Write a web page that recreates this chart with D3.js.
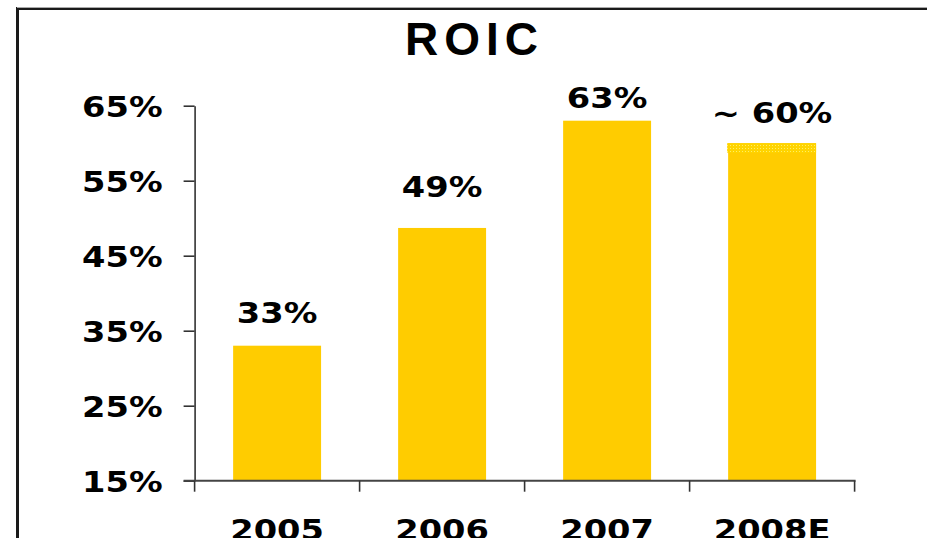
<!DOCTYPE html>
<html>
<head>
<meta charset="utf-8">
<script src="https://cdn.jsdelivr.net/npm/d3@7"></script>
<style>
  html, body { margin: 0; padding: 0; background: #fff; overflow: hidden; }
  svg { display: block; }
</style>
</head>
<body>
<svg id="chart" width="927" height="538"></svg>
<script>
// ---- data ----
const title = "ROIC";
const categories = ["2005", "2006", "2007", "2008E"];
const roicValues = [33, 48.7, 63, 60];
const valueLabels = ["33%", "49%", "63%", "~ 60%"];
const yTickValues = [15, 25, 35, 45, 55, 65];
const estimateCategory = "2008E";

// ---- layout / style (not data) ----
const labelLift = [23, 31, 12.5, 20];
const W = 927, H = 538;
const plot = { left: 194.6, right: 854.6, top: 105.7, bottom: 480.7 };
const barColor = "#FFCC00";
const numFont = "'DejaVu Sans', Verdana, sans-serif";
const stretch = 1.16;

const svg = d3.select("#chart");
svg.append("rect").attr("width", W).attr("height", H).attr("fill", "#fff");

// frame
svg.append("rect")
  .attr("x", 17.5).attr("y", 8.5)
  .attr("width", 1000).attr("height", 1000)
  .attr("fill", "none").attr("stroke", "#1a1a1a").attr("stroke-width", 3);
svg.append("line").attr("x1", 17).attr("x2", W).attr("y1", 7.5).attr("y2", 7.5)
  .attr("stroke", "#aaa").attr("stroke-width", 1);

// pattern for estimate top band
const defs = svg.append("defs");
const pat = defs.append("pattern").attr("id", "dots")
  .attr("width", 3).attr("height", 3).attr("patternUnits", "userSpaceOnUse");
pat.append("rect").attr("width", 3).attr("height", 3).attr("fill", "#FFD400");
pat.append("rect").attr("x", 1).attr("y", 1).attr("width", 1).attr("height", 1).attr("fill", "#FFEE66");

// scales
const y = d3.scaleLinear().domain([15, 65]).range([plot.bottom, plot.top]);
const pi = 0.467;
const x = d3.scaleBand().domain(categories).range([plot.left, plot.right])
  .paddingInner(pi).paddingOuter(pi / 2);

// title
svg.append("text")
  .attr("x", 474.5).attr("y", 55)
  .attr("text-anchor", "middle")
  .attr("font-family", "'Liberation Sans', Arial, sans-serif")
  .attr("font-weight", "bold").attr("font-size", 46)
  .attr("letter-spacing", 6)
  .attr("fill", "#000")
  .text(title);

// bars
svg.append("g").selectAll("rect.bar")
  .data(categories)
  .join("rect")
  .attr("class", "bar")
  .attr("x", d => x(d))
  .attr("width", x.bandwidth())
  .attr("y", (d, i) => y(roicValues[i]))
  .attr("height", (d, i) => y(15) - y(roicValues[i]))
  .attr("fill", barColor);

// estimate band (dotted top of the estimate bar)
const ei = categories.indexOf(estimateCategory);
svg.append("rect")
  .attr("x", x(estimateCategory) - 1)
  .attr("width", x.bandwidth() + 1)
  .attr("y", y(roicValues[ei]))
  .attr("height", 9.5)
  .attr("fill", "url(#dots)");

function stretchText(sel) {
  sel.each(function () {
    const w = this.getComputedTextLength();
    d3.select(this).attr("textLength", w * stretch).attr("lengthAdjust", "spacingAndGlyphs");
  });
}

// value labels
svg.append("g").selectAll("text")
  .data(categories)
  .join("text")
  .attr("x", d => x(d) + x.bandwidth() / 2)
  .attr("y", (d, i) => y(roicValues[i]) - labelLift[i])
  .attr("text-anchor", "middle")
  .attr("font-family", numFont).attr("font-weight", "bold").attr("font-size", 29)
  .attr("fill", "#000")
  .text((d, i) => valueLabels[i])
  .call(stretchText);

// y axis
const yAxis = svg.append("g")
  .attr("transform", `translate(${plot.left},0)`)
  .call(d3.axisLeft(y).tickValues(yTickValues).tickSize(11).tickSizeOuter(0)
    .tickPadding(21).tickFormat(d => d + "%"));
yAxis.select(".domain").attr("stroke", "#333").attr("stroke-width", 1.6);
yAxis.selectAll(".tick line").attr("stroke", "#333").attr("stroke-width", 1.6);
yAxis.selectAll(".tick text")
  .attr("font-family", numFont).attr("font-weight", "bold").attr("font-size", 29)
  .attr("fill", "#000").attr("dy", "0.36em")
  .call(stretchText);

// x axis
const boundaries = categories.map(c => x(c) - x.step() * pi / 2);
boundaries.push(x(categories[categories.length - 1]) + x.bandwidth() + x.step() * pi / 2);
const xg = svg.append("g");
xg.append("line")
  .attr("x1", plot.left - 11).attr("x2", boundaries[boundaries.length - 1] + 1)
  .attr("y1", y(15)).attr("y2", y(15))
  .attr("stroke", "#444").attr("stroke-width", 2);
xg.selectAll("line.bt")
  .data(boundaries)
  .join("line")
  .attr("class", "bt")
  .attr("x1", d => d).attr("x2", d => d)
  .attr("y1", y(15)).attr("y2", y(15) + 11)
  .attr("stroke", "#333").attr("stroke-width", 1.6);
xg.selectAll("text")
  .data(categories)
  .join("text")
  .attr("x", d => x(d) + x.bandwidth() / 2)
  .attr("y", y(15) + 59)
  .attr("text-anchor", "middle")
  .attr("font-family", numFont).attr("font-weight", "bold").attr("font-size", 29)
  .attr("fill", "#000")
  .text(d => d)
  .call(stretchText);
</script>
</body>
</html>
